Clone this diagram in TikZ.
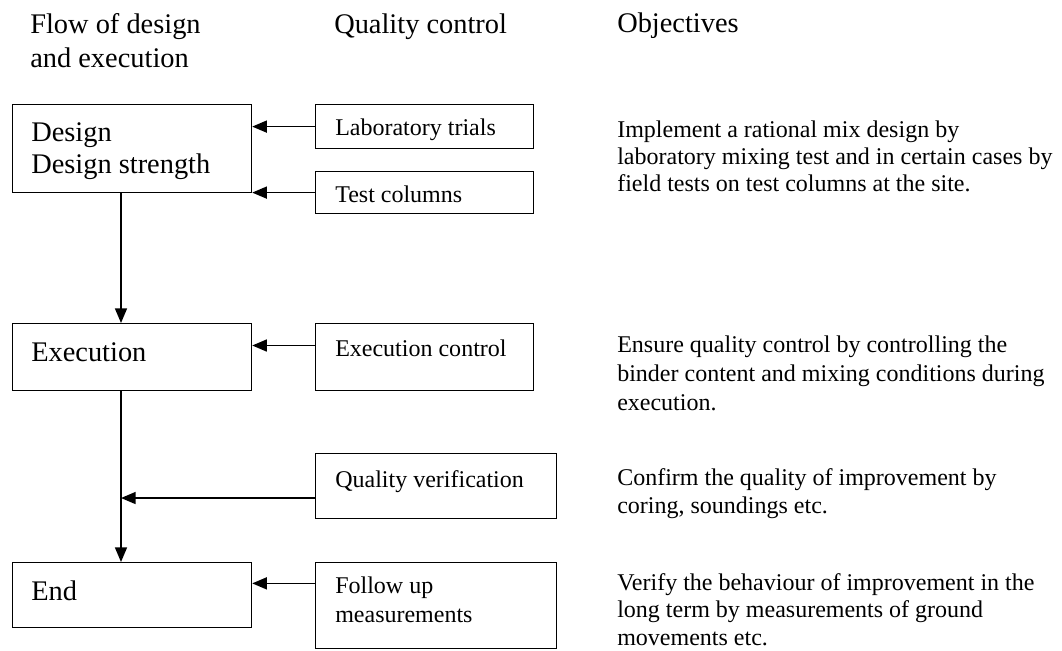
\documentclass[tikz,border=0pt]{standalone}
\usepackage{fontspec}
\setmainfont{Liberation Serif}
\usetikzlibrary{arrows.meta,calc}

\begin{document}
\begin{tikzpicture}[x=0.75pt, y=-0.75pt]
\tikzstyle{bigtxt} = [anchor = base west, inner sep = 0pt, align = left, font = \fontsize{21.3}{24}\selectfont]
\tikzstyle{smalltxt} = [anchor = base west, inner sep = 0pt, align = left, font = \fontsize{18}{21}\selectfont]
\tikzstyle{flowbox} = [draw, line width = 0.9pt, anchor = north west, inner sep = 0pt, minimum width = 179.25pt]
\tikzstyle{qcbox} = [draw, line width = 0.9pt, anchor = north west, inner sep = 0pt, minimum width = 163.5pt]
\tikzset{arr/.style={line width = 1.2pt, -{Triangle[length=11pt, width=9pt]}}}
\useasboundingbox (0,0) rectangle (1062,650);
% column heads (anchor is the last line)
\node [bigtxt, font = \fontsize{21.3}{25.5}\selectfont] (hflow) at (30,67) {Flow of design\\and execution};
\node [bigtxt] (hqc) at (334,33) {Quality control};
\node [bigtxt] (hobj) at (617,32) {Objectives};
% flow of design and execution
\node [flowbox, minimum height = 66pt] (design) at (12,104) {};
\node [flowbox, minimum height = 50.25pt] (exec) at (12,323) {};
\node [flowbox, minimum height = 48.75pt] (end) at (12,562) {};
\node [bigtxt] (designtxt) at (31,173) {Design\\Design strength};
\node [bigtxt] (exectxt) at (31,361) {Execution};
\node [bigtxt] (endtxt) at (31,600) {End};
% quality control
\node [qcbox, minimum height = 33pt] (lab) at (315,104) {};
\node [qcbox, minimum height = 31.5pt] (cols) at (315,171) {};
\node [qcbox, minimum height = 50.25pt] (execctl) at (315,323) {};
\node [qcbox, minimum width = 180.75pt, minimum height = 48.75pt] (verif) at (315,453) {};
\node [qcbox, minimum width = 180.75pt, minimum height = 64.5pt] (follow) at (315,562) {};
\node [smalltxt] (labtxt) at (335,135) {Laboratory trials};
\node [smalltxt] (colstxt) at (335,202) {Test columns};
\node [smalltxt] (execctltxt) at (335,356) {Execution control};
\node [smalltxt] (veriftxt) at (335,487) {Quality verification};
\node [smalltxt, font = \fontsize{18}{21.75}\selectfont] (followtxt) at (335,622) {Follow up\\measurements};
% objectives
\node [smalltxt, font = \fontsize{18}{20.25}\selectfont] (obj1) at (617,191) {Implement a rational mix design by\\laboratory mixing test and in certain cases by\\field tests on test columns at the site.};
\node [smalltxt, font = \fontsize{18}{21.4}\selectfont] (obj2) at (617,410) {Ensure quality control by controlling the\\binder content and mixing conditions during\\execution.};
\node [smalltxt] (obj3) at (617,513) {Confirm the quality of improvement by\\coring, soundings etc.};
\node [smalltxt, font = \fontsize{18}{20.4}\selectfont] (obj4) at (617,645) {Verify the behaviour of improvement in the\\long term by measurements of ground\\movements etc.};
% connectors
\coordinate (spine) at (121,0);
\draw [arr] (design.south -| spine) -- (exec.north -| spine);
\draw [arr] (exec.south -| spine) -- (end.north -| spine);
\draw [arr] (lab.west) -- (lab.west -| design.east);
\draw [arr] (cols.west) -- (cols.west -| design.east);
\coordinate (ecin) at ($(execctl.north west)!0.33!(execctl.south west)$);
\draw [arr] (ecin) -- (ecin -| exec.east);
\coordinate (vin) at ($(verif.north west)!0.68!(verif.south west)$);
\draw [arr] (vin) -- (vin -| spine);
\coordinate (fin) at ($(follow.north west)!0.245!(follow.south west)$);
\draw [arr] (fin) -- (fin -| end.east);
\end{tikzpicture}
\end{document}
